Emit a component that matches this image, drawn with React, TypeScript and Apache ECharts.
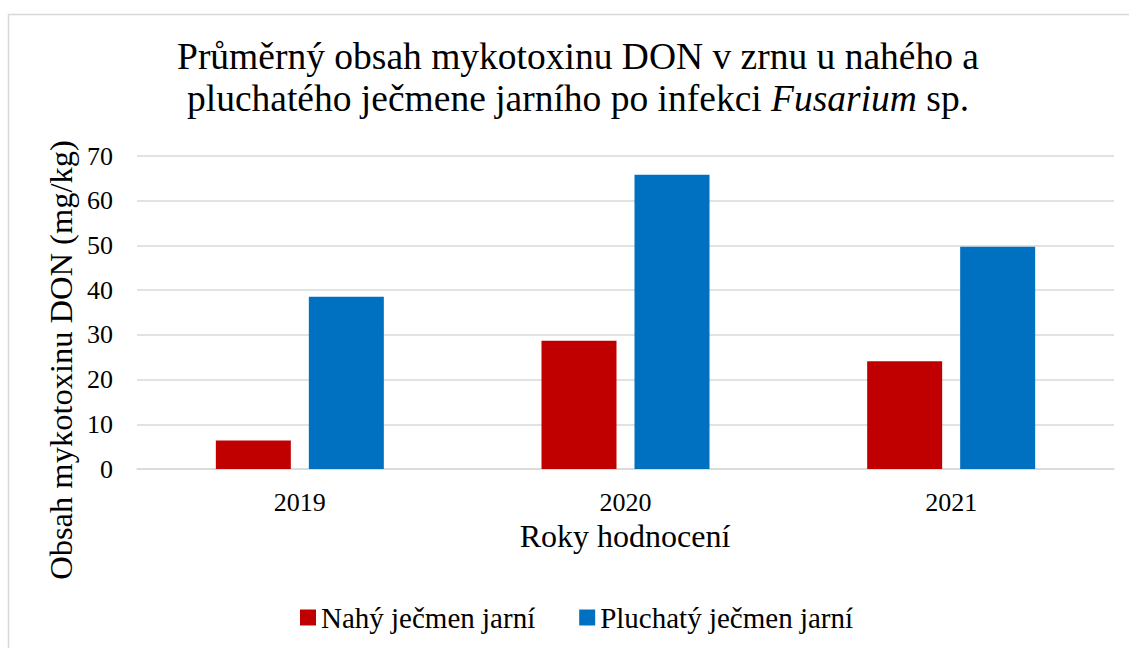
import React, { useEffect, useRef } from "react";
import * as echarts from "echarts";

const categories = ["2019", "2020", "2021"];
const seriesNames = ["Nahý ječmen jarní", "Pluchatý ječmen jarní"];
const nahyValues = [6.4, 28.7, 24.1];
const pluchatyValues = [38.5, 65.8, 49.7];
const colors = ["#C00000", "#0070C0"];
const xAxisTitle = "Roky hodnocení";
const yAxisTitle = "Obsah mykotoxinu DON (mg/kg)";

const FONT = "Liberation Serif";

export default function App() {
  const ref = useRef<HTMLDivElement>(null);
  useEffect(() => {
    document.body.style.margin = "0";
    const chart = echarts.init(ref.current!, null, { renderer: "svg" });
    chart.setOption({
      animation: false,
      backgroundColor: "#ffffff",
      textStyle: { fontFamily: FONT },
      title: {
        text: "Průměrný obsah mykotoxinu DON v zrnu u nahého a\npluchatého ječmene jarního po infekci {i|Fusarium} sp.",
        left: 573,
        top: 30,
        textAlign: "center",
        textStyle: {
          fontFamily: FONT,
          fontSize: 37.5,
          fontWeight: "normal",
          color: "#000",
          lineHeight: 42.5,
          rich: {
            i: { fontFamily: FONT, fontSize: 37.5, fontStyle: "italic", color: "#000", lineHeight: 42.5 },
          },
        },
      },
      legend: {
        top: 598,
        left: 295,
        itemWidth: 16,
        itemHeight: 16,
        itemGap: 44,
        icon: "rect",
        textStyle: { fontFamily: FONT, fontSize: 29, color: "#000", padding: [0, 0, 0, 0] },
        data: seriesNames,
      },
      grid: { left: 137, right: 15, top: 156, bottom: 179, containLabel: false },
      xAxis: {
        type: "category",
        data: categories,
        axisLine: { lineStyle: { color: "#d9d9d9", width: 1.5 } },
        axisTick: { show: false },
        axisLabel: { fontFamily: FONT, fontSize: 26, color: "#000", margin: 20 },
      },
      yAxis: {
        type: "value",
        min: 0,
        max: 70,
        interval: 10,
        axisLine: { show: false },
        axisTick: { show: false },
        splitLine: { lineStyle: { color: "#d9d9d9", width: 1.5 } },
        axisLabel: { fontFamily: FONT, fontSize: 26, color: "#000", margin: 24 },
      },
      series: [
        {
          name: seriesNames[0],
          type: "bar",
          data: nahyValues,
          barWidth: 75,
          barGap: "24%",
          itemStyle: { color: colors[0] },
        },
        {
          name: seriesNames[1],
          type: "bar",
          data: pluchatyValues,
          barWidth: 75,
          barGap: "24%",
          itemStyle: { color: colors[1] },
        },
      ],
      graphic: [
        {
          type: "rect",
          shape: { x: 8.5, y: 14.5, width: 1300, height: 1000 },
          style: { fill: "none", stroke: "#d9d9d9", lineWidth: 1.5 },
          silent: true,
        },
        {
          type: "text",
          x: 625,
          y: 536,
          style: {
            text: xAxisTitle,
            font: `32px ${FONT}`,
            fill: "#000",
            align: "center",
            verticalAlign: "middle",
          },
        },
        {
          type: "text",
          x: 61,
          y: 360,
          rotation: Math.PI / 2,
          style: {
            text: yAxisTitle,
            font: `32.5px ${FONT}`,
            fill: "#000",
            align: "center",
            verticalAlign: "middle",
          },
        },
      ],
    });
    return () => chart.dispose();
  }, []);
  return <div ref={ref} style={{ width: 1129, height: 648 }} />;
}
